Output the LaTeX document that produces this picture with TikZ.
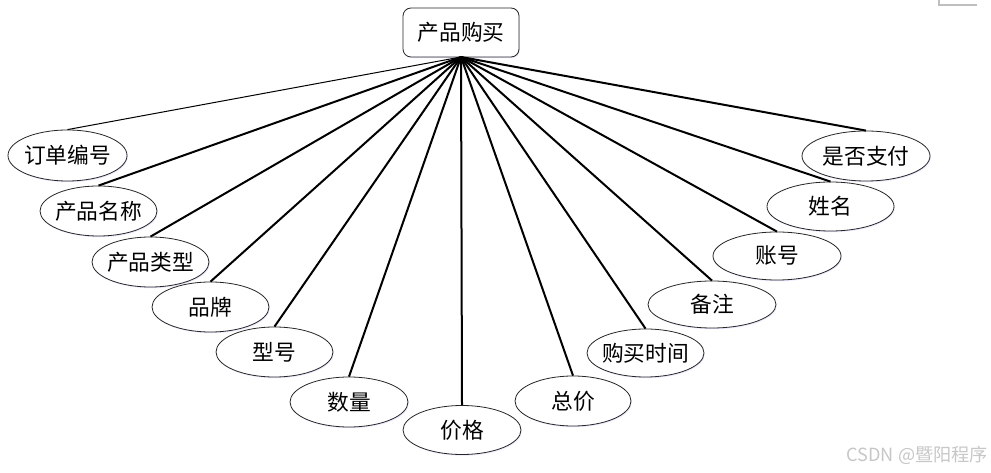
\documentclass[tikz,border=0pt]{standalone}
\usepackage{fontspec}
\newfontfamily\cjk{Noto Sans CJK SC}
\newcommand\zlbl[1]{\makebox[0pt]{#1}}
\usetikzlibrary{shapes.geometric,shadows}
\begin{document}
\begin{tikzpicture}[x=0.75pt,y=-0.75pt,
  attr/.style={ellipse,draw=black!85,line width=0.6pt,fill=white,inner sep=0pt,
     font=\cjk\fontsize{16.3}{19}\selectfont,
     general shadow={fill=blue!25,opacity=0.35,shadow xshift=0.6pt,shadow yshift=-0.9pt}},
  hubbox/.style={rectangle,rounded corners=6pt,draw=black!85,line width=0.6pt,fill=white,
     minimum width=87pt,minimum height=36.75pt,inner sep=0pt,
     font=\cjk\fontsize{16.3}{19}\selectfont,
     general shadow={fill=blue!25,opacity=0.35,shadow xshift=0.6pt,shadow yshift=-0.9pt}},
  link/.style={line width=1.5pt,black},
  thinlink/.style={line width=0.75pt,black}
]
\useasboundingbox (0,0) rectangle (991,473);
\fill[white] (0,0) rectangle (991,473);
% corner mark
\draw[black!25,line width=0.8pt] (939,0) -- (939,5) -- (977,5);

\coordinate (hub) at (461,57);

\node[attr,minimum width=89.25pt,minimum height=38.25pt] (e1) at (67.5,155.5) {\zlbl{订单编号}};
\node[attr,minimum width=87.75pt,minimum height=37.5pt] (e2) at (98.5,211) {\zlbl{产品名称}};
\node[attr,minimum width=87.75pt,minimum height=37.5pt] (e3) at (150.5,262) {\zlbl{产品类型}};
\node[attr,minimum width=87.75pt,minimum height=37.5pt] (e4) at (210.5,307) {\zlbl{品牌}};
\node[attr,minimum width=87.75pt,minimum height=37.5pt] (e5) at (274.5,352) {\zlbl{型号}};
\node[attr,minimum width=88.5pt,minimum height=37.5pt] (e6) at (349,402) {\zlbl{数量}};
\node[attr,minimum width=88.5pt,minimum height=36.75pt] (e7) at (462,430) {\zlbl{价格}};
\node[attr,minimum width=87pt,minimum height=37.5pt] (e8) at (573,401) {\zlbl{总价}};
\node[attr,minimum width=87.75pt,minimum height=36pt] (e9) at (645.5,353) {\zlbl{购买时间}};
\node[attr,minimum width=96pt,minimum height=35.25pt] (e10) at (712,304.5) {\zlbl{备注}};
\node[attr,minimum width=96pt,minimum height=36pt] (e11) at (777,256) {\zlbl{账号}};
\node[attr,minimum width=95.25pt,minimum height=36.75pt] (e12) at (830.5,206.5) {\zlbl{姓名}};
\node[attr,minimum width=96pt,minimum height=37.5pt] (e13) at (866,156) {\zlbl{是否支付}};

\node[hubbox] (top) at (461,32.5) {产品购买};

\draw[thinlink] (hub) -- (e1.north);
\foreach \i in {2,...,13}{
  \draw[link] (hub) -- (e\i.north);
}

\node[anchor=east,text=black!22,font=\fontspec{Noto Sans CJK SC}\fontsize{13.6}{16}\selectfont,inner sep=0pt] (wm) at (988,455) {CSDN @暨阳程序};
\end{tikzpicture}
\end{document}
